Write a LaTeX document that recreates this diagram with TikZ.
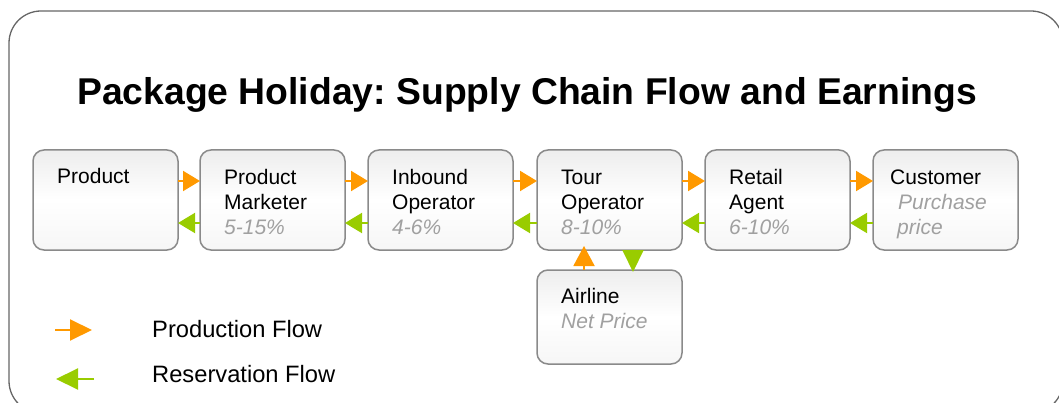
\documentclass[tikz,border=0pt]{standalone}
\usepackage{fontspec}
\setmainfont{Liberation Sans}
\usetikzlibrary{arrows.meta,calc}
\definecolor{prodorange}{HTML}{FF9900}
\definecolor{resgreen}{HTML}{99CC00}
\definecolor{boxborder}{HTML}{8A8A8A}
\definecolor{pcttext}{HTML}{A0A0A0}
\definecolor{framegray}{HTML}{666666}
\newcommand\pctx[1]{{\color{pcttext}\itshape #1}}
\frenchspacing
\begin{document}
\begin{tikzpicture}[x=1pt,y=-1pt,
  stagebox/.style={draw=boxborder, line width=1.5pt, rounded corners=11pt,
    minimum width=145pt, minimum height=100pt, inner sep=0pt, outer sep=0pt,
    anchor=north west, top color=gray!14, bottom color=gray!7, middle color=white},
  boxtext/.style={anchor=base west, align=left, inner sep=0pt,
    font=\fontsize{21}{25.5}\selectfont},
  legendtext/.style={anchor=base west, inner sep=0pt,
    font=\fontsize{23.7}{28}\selectfont},
  prodarrow/.style={draw=prodorange, line width=2pt,
    -{Triangle[length=17pt,width=20pt]}},
  resarrow/.style={draw=resgreen, line width=2pt,
    -{Triangle[length=17pt,width=20pt]}},
]
\useasboundingbox (0,0) rectangle (1059,403);
\begin{scope}
\clip (0,0) rectangle (1059,403);
\draw[framegray, line width=1.3pt, rounded corners=32pt] (9,11) rectangle (1063,413);
\end{scope}

\node[anchor=base west, inner sep=0pt, font=\fontsize{37.3}{42}\selectfont\bfseries] (title) at (77,105)
  {Package Holiday: Supply Chain Flow and Earnings};

% boxes
\node[stagebox] (prod) at (33,150) {};
\node[stagebox] (pm) at (200,150) {};
\node[stagebox] (inb) at (368,150) {};
\node[stagebox] (tour) at (537,150) {};
\node[stagebox] (ret) at (705,150) {};
\node[stagebox] (cust) at (873,150) {};
\node[stagebox, minimum height=94pt] (air) at (537,270) {};

% texts (anchor = baseline of the last line)
\node[boxtext] (tprod) at ($(prod.north west)+(24,34)$) {Product};
\node[boxtext] (tpm) at ($(pm.north west)+(24,85)$) {Product\\Marketer\\\pctx{5-15\%}};
\node[boxtext] (tinb) at ($(inb.north west)+(24,85)$) {Inbound\\Operator\\\pctx{4-6\%}};
\node[boxtext] (ttour) at ($(tour.north west)+(24,85)$) {Tour\\Operator\\\pctx{8-10\%}};
\node[boxtext] (tret) at ($(ret.north west)+(24,85)$) {Retail\\Agent\\\pctx{6-10\%}};
\node[boxtext] (tcust) at ($(cust.north west)+(17,85)$) {Customer\\\hspace*{8pt}\pctx{Purchase}\\\hspace*{7pt}\pctx{price}};
\node[boxtext] (tair) at ($(air.north west)+(24,58.5)$) {Airline\\\pctx{Net Price}};

% horizontal arrows
\foreach \a/\b in {prod/pm, pm/inb, inb/tour, tour/ret, ret/cust}{
  \draw[prodarrow] ($(\a.north east)+(0,31)$) -- ($(\b.north west)+(0,31)$);
  \draw[resarrow] ($(\b.north west)+(0,73)$) -- ($(\a.north east)+(0,73)$);
}

% vertical arrows
\draw[draw=prodorange, line width=2pt, -{Triangle[length=20pt,width=21pt]}]
  ($(air.north west)+(47,0)$) -- ($(tour.south west)+(47,-4)$);
\draw[draw=resgreen, line width=2pt, -{Triangle[length=22pt,width=21pt]}]
  ($(tour.south west)+(96,0)$) -- ($(air.north west)+(96,2)$);

% legend
\coordinate (lp1) at (55,330);
\coordinate (lp2) at (92,330);
\coordinate (lr1) at (94,379);
\coordinate (lr2) at (56,379);
\draw[draw=prodorange, line width=2pt, -{Triangle[length=22pt,width=21pt]}] (lp1) -- (lp2);
\draw[draw=resgreen, line width=2pt, -{Triangle[length=22pt,width=21pt]}] (lr1) -- (lr2);
\node[legendtext] (lprod) at (152,337) {Production Flow};
\node[legendtext] (lres) at (152,382) {Reservation Flow};
\end{tikzpicture}
\end{document}
